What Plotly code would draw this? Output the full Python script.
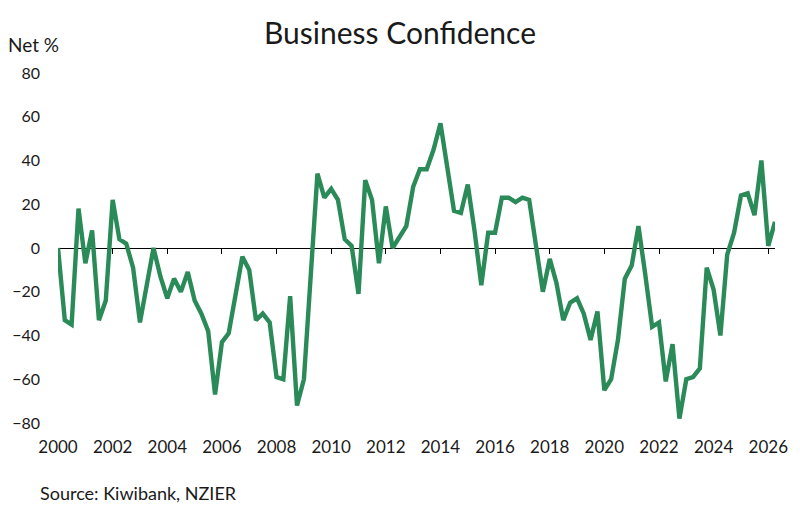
import pandas as pd
import plotly.graph_objects as go

title_text = "Business Confidence"
y_title = "Net %"
source_text = "Source: Kiwibank, NZIER"

start_quarter = "2000-01-01"
confidence = [
    0, -33, -35, 18, -7, 8, -33, -24, 22, 4,
    2, -9, -34, -16, 0, -13, -23, -14, -20, -11,
    -24, -30, -38, -67, -43, -39, -22, -4, -10, -33,
    -30, -34, -59, -60, -22, -72, -60, -15, 34, 23,
    27, 22, 4, 1, -21, 31, 22, -7, 19, 0,
    5, 10, 28, 36, 36, 45, 57, 37, 17, 16,
    29, 8, -17, 7, 7, 23, 23, 21, 23, 22,
    1, -20, -5, -16, -33, -25, -23, -30, -42, -29,
    -65, -60, -42, -14, -8, 10, -12, -36, -34, -61,
    -44, -78, -60, -59, -55, -9, -19, -40, -3, 7,
    24, 25, 15, 40, 1, 12,
]
quarters = pd.date_range(start_quarter, periods=len(confidence), freq="QS")

y_ticks = [80, 60, 40, 20, 0, -20, -40, -60, -80]
x_tick_years = list(range(2000, 2027, 2))

FONT = "Lato, 'Open Sans', sans-serif"
TEXT_COLOR = "#1a1a1a"
LINE_COLOR = "#2A8A58"

x_range = [quarters[0], quarters[-1]]
tickvals = [pd.Timestamp(f"{y}-01-01") for y in x_tick_years]

fig = go.Figure()
fig.add_trace(go.Scatter(
    x=quarters, y=confidence, mode="lines",
    line=dict(color=LINE_COLOR, width=4.4),
    hoverinfo="x+y", showlegend=False,
))

fig.update_layout(
    width=800, height=511,
    margin=dict(l=56, r=22, t=73, b=88),
    paper_bgcolor="white", plot_bgcolor="white",
    font=dict(family=FONT, size=16, color=TEXT_COLOR),
    title=dict(text=title_text, x=0.5, xanchor="center", y=0.935, yanchor="middle",
               font=dict(family=FONT, size=30, color=TEXT_COLOR)),
    xaxis=dict(
        range=x_range, tickvals=tickvals, ticktext=[str(y) for y in x_tick_years],
        showline=False, showgrid=False, zeroline=False, ticks="",
        ticklabelstandoff=12, tickfont=dict(size=17),
    ),
    xaxis2=dict(
        overlaying="x", anchor="free", position=0.5, range=x_range,
        tickvals=tickvals, showticklabels=False,
        showline=True, linecolor="black", linewidth=1.4,
        ticks="outside", ticklen=5, tickwidth=1.4, tickcolor="black",
        showgrid=False, zeroline=False, layer="below traces",
    ),
    yaxis=dict(
        range=[-80, 80], tickvals=y_ticks, showgrid=False, zeroline=False,
        showline=False, ticks="", ticklabelstandoff=17, tickfont=dict(size=16),
    ),
    annotations=[
        dict(text=y_title, xref="paper", yref="paper", x=-52/722, y=1 + 29/350,
             xanchor="left", yanchor="middle", showarrow=False,
             font=dict(family=FONT, size=19, color=TEXT_COLOR)),
        dict(text=source_text, xref="paper", yref="paper", x=-20/722, y=-70/350,
             xanchor="left", yanchor="middle", showarrow=False,
             font=dict(family=FONT, size=18, color=TEXT_COLOR)),
    ],
)
# invisible trace on xaxis2 so the zero axis is rendered
fig.add_trace(go.Scatter(x=[quarters[0]], y=[0], xaxis="x2", mode="markers",
                         marker=dict(opacity=0), showlegend=False, hoverinfo="skip"))

fig.write_html("out.html")
